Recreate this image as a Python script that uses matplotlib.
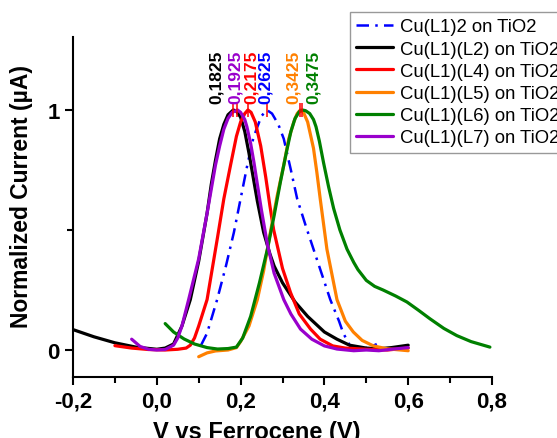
import matplotlib
matplotlib.use("Agg")
import matplotlib.pyplot as plt
from matplotlib.ticker import MultipleLocator, FuncFormatter

plt.rcParams["font.family"] = ["Liberation Sans", "DejaVu Sans"]

# Cu(L1)2 on TiO2
v_b = [0.105, 0.12, 0.144, 0.165, 0.184, 0.20, 0.216, 0.23, 0.24, 0.25, 0.2625, 0.275, 0.29,
       0.303, 0.32, 0.335, 0.355, 0.374, 0.395, 0.414, 0.435, 0.445, 0.462, 0.49, 0.51, 0.525]
i_b = [0.018, 0.07, 0.21, 0.35, 0.49, 0.63, 0.77, 0.88, 0.93, 0.975, 1.0, 0.985, 0.94,
       0.88, 0.75, 0.63, 0.52, 0.42, 0.31, 0.21, 0.12, 0.07, 0.015, 0.005, 0.012, 0.025]

# Cu(L1)(L2)
v_l2 = [-0.20, -0.15, -0.10, -0.05, 0.00, 0.02, 0.04, 0.06, 0.08, 0.10, 0.12, 0.13, 0.14,
        0.15, 0.16, 0.17, 0.1825, 0.19, 0.20, 0.21, 0.22, 0.23, 0.24, 0.255, 0.27, 0.28,
        0.30, 0.33, 0.36, 0.40, 0.43, 0.46, 0.50, 0.53, 0.56, 0.60]
i_l2 = [0.085, 0.055, 0.03, 0.012, 0.003, 0.008, 0.025, 0.10, 0.21, 0.37, 0.57, 0.69, 0.79,
        0.88, 0.94, 0.98, 1.0, 0.995, 0.97, 0.91, 0.82, 0.72, 0.62, 0.49, 0.40, 0.35,
        0.28, 0.20, 0.14, 0.075, 0.045, 0.02, 0.008, 0.005, 0.01, 0.02]

# Cu(L1)(L4)
v_l4 = [-0.10, -0.06, -0.02, 0.02, 0.05, 0.07, 0.08, 0.09, 0.10, 0.12, 0.145, 0.16, 0.176,
        0.19, 0.20, 0.21, 0.2175, 0.225, 0.235, 0.248, 0.26, 0.27, 0.279, 0.30, 0.319, 0.34,
        0.367, 0.39, 0.42, 0.45, 0.50, 0.55, 0.60]
i_l4 = [0.018, 0.008, 0.002, 0.0, 0.003, 0.008, 0.02, 0.05, 0.10, 0.21, 0.47, 0.63, 0.77,
        0.89, 0.95, 0.985, 1.0, 0.99, 0.95, 0.85, 0.72, 0.60, 0.50, 0.34, 0.24, 0.15,
        0.087, 0.045, 0.017, 0.008, 0.003, 0.0, 0.008]

# Cu(L1)(L5)
v_l5 = [0.10, 0.12, 0.14, 0.17, 0.19, 0.20, 0.22, 0.24, 0.255, 0.271, 0.287, 0.303, 0.315,
        0.327, 0.335, 0.3425, 0.35, 0.36, 0.374, 0.382, 0.39, 0.406, 0.43, 0.45, 0.469,
        0.49, 0.517, 0.55, 0.60]
i_l5 = [-0.028, -0.012, -0.004, 0.0, 0.01, 0.035, 0.10, 0.21, 0.33, 0.49, 0.64, 0.77, 0.88,
        0.95, 0.985, 1.0, 0.99, 0.95, 0.84, 0.74, 0.63, 0.42, 0.21, 0.12, 0.075,
        0.04, 0.017, 0.005, -0.003]

# Cu(L1)(L6)
v_l6 = [0.02, 0.04, 0.065, 0.09, 0.12, 0.145, 0.17, 0.19, 0.205, 0.224, 0.245, 0.264, 0.28,
        0.295, 0.31, 0.32, 0.33, 0.34, 0.3475, 0.355, 0.365, 0.374, 0.38, 0.388, 0.398, 0.41,
        0.422, 0.437, 0.454, 0.47, 0.48, 0.50, 0.52, 0.54, 0.57, 0.597, 0.625, 0.652, 0.685,
        0.716, 0.75, 0.795]
i_l6 = [0.11, 0.075, 0.046, 0.025, 0.01, 0.004, 0.006, 0.012, 0.05, 0.14, 0.28, 0.42, 0.56,
        0.70, 0.83, 0.91, 0.965, 0.993, 1.0, 0.997, 0.985, 0.96, 0.93, 0.87, 0.78, 0.68,
        0.59, 0.50, 0.42, 0.365, 0.335, 0.29, 0.265, 0.25, 0.225, 0.20, 0.165, 0.13, 0.09,
        0.06, 0.035, 0.012]

# Cu(L1)(L7)
v_l7 = [-0.06, -0.04, -0.02, 0.00, 0.02, 0.04, 0.05, 0.06, 0.076, 0.10, 0.12, 0.14, 0.15,
        0.16, 0.17, 0.18, 0.1925, 0.20, 0.21, 0.215, 0.224, 0.232, 0.24, 0.25, 0.264, 0.28,
        0.303, 0.32, 0.343, 0.37, 0.40, 0.43, 0.47, 0.50, 0.53, 0.56, 0.60]
i_l7 = [0.045, 0.015, 0.003, 0.0, 0.002, 0.02, 0.05, 0.10, 0.21, 0.38, 0.57, 0.77, 0.85,
        0.92, 0.965, 0.99, 1.0, 0.99, 0.96, 0.93, 0.86, 0.78, 0.69, 0.58, 0.44, 0.32,
        0.21, 0.15, 0.087, 0.045, 0.017, 0.004, -0.003, 0.0, -0.003, 0.003, 0.01]

labels = ["Cu(L1)2 on TiO2", "Cu(L1)(L2) on TiO2", "Cu(L1)(L4) on TiO2",
          "Cu(L1)(L5) on TiO2", "Cu(L1)(L6) on TiO2", "Cu(L1)(L7) on TiO2"]
colors = ["#0000FF", "#000000", "#FF0000", "#FF8000", "#008000", "#9900CC"]

peaks = [0.2625, 0.1825, 0.2175, 0.3425, 0.3475, 0.1925]
peak_texts = ["0,2625", "0,1825", "0,2175", "0,3425", "0,3475", "0,1925"]
# horizontal shift of the peak labels so they do not overlap
label_shift = [-0.003, -0.04, 0.009, -0.017, 0.027, -0.006]


def comma(x, pos):
    return f"{x:.1f}".replace(".", ",")


def main():
    fig = plt.figure(figsize=(5.57, 4.39), dpi=100)
    ax = fig.add_axes([73 / 557, 1 - 378 / 439, (492 - 73) / 557, (378 - 38) / 439])

    series = [(v_b, i_b), (v_l2, i_l2), (v_l4, i_l4), (v_l5, i_l5), (v_l6, i_l6), (v_l7, i_l7)]
    for k, (v, i) in enumerate(series):
        if k == 0:
            ax.plot(v, i, color=colors[k], lw=1.8, ls=(0, (5, 2.5, 1, 2.5)), label=labels[k])
        else:
            ax.plot(v, i, color=colors[k], lw=2.3, label=labels[k],
                    solid_joinstyle="round", solid_capstyle="round")

    # peak markers and labels
    for k in range(len(peaks)):
        ax.plot(peaks[k], 1.0, marker="|", color="#FF0000", ms=10, mew=1.1)
        ax.text(peaks[k] + label_shift[k], 1.03, peak_texts[k], rotation=90,
                ha="center", va="bottom", color=colors[k], fontsize=12.5, fontweight="bold")

    ax.set_xlim(-0.2, 0.8)
    ax.set_ylim(-0.1125, 1.304)
    ax.xaxis.set_major_locator(MultipleLocator(0.2))
    ax.xaxis.set_minor_locator(MultipleLocator(0.1))
    ax.xaxis.set_major_formatter(FuncFormatter(comma))
    ax.set_yticks([0, 1])
    ax.set_yticks([0.5], minor=True)

    for s in ["top", "right"]:
        ax.spines[s].set_visible(False)
    for s in ["left", "bottom"]:
        ax.spines[s].set_linewidth(1.5)
    ax.tick_params(which="major", direction="out", length=6, width=1.5, labelsize=16)
    ax.tick_params(which="minor", direction="out", length=4, width=1.5)
    for t in ax.get_xticklabels() + ax.get_yticklabels():
        t.set_fontweight("bold")

    ax.set_xlabel("V vs Ferrocene (V)", fontsize=17, fontweight="bold")
    ax.xaxis.set_label_coords((257 - 73) / 419, (378 - 439) / 340)
    ax.xaxis.label.set_va("baseline")
    ax.set_ylabel("Normalized Current (µA)", fontsize=16.5, fontweight="bold")
    ax.yaxis.set_label_coords((22 - 73) / 419, (378 - 197) / 340)
    ax.yaxis.label.set_va("center")

    leg = fig.legend(loc="upper left", bbox_to_anchor=(350 / 557, 1 - 13 / 439),
                     fontsize=13.3, frameon=True, fancybox=False, borderaxespad=0,
                     handlelength=2.0, handletextpad=0.35, labelspacing=0.28,
                     borderpad=0.35)
    leg.get_frame().set_edgecolor("#808080")
    leg.get_frame().set_linewidth(1.0)

    fig.savefig("out.png", dpi=100)


if __name__ == "__main__":
    main()
